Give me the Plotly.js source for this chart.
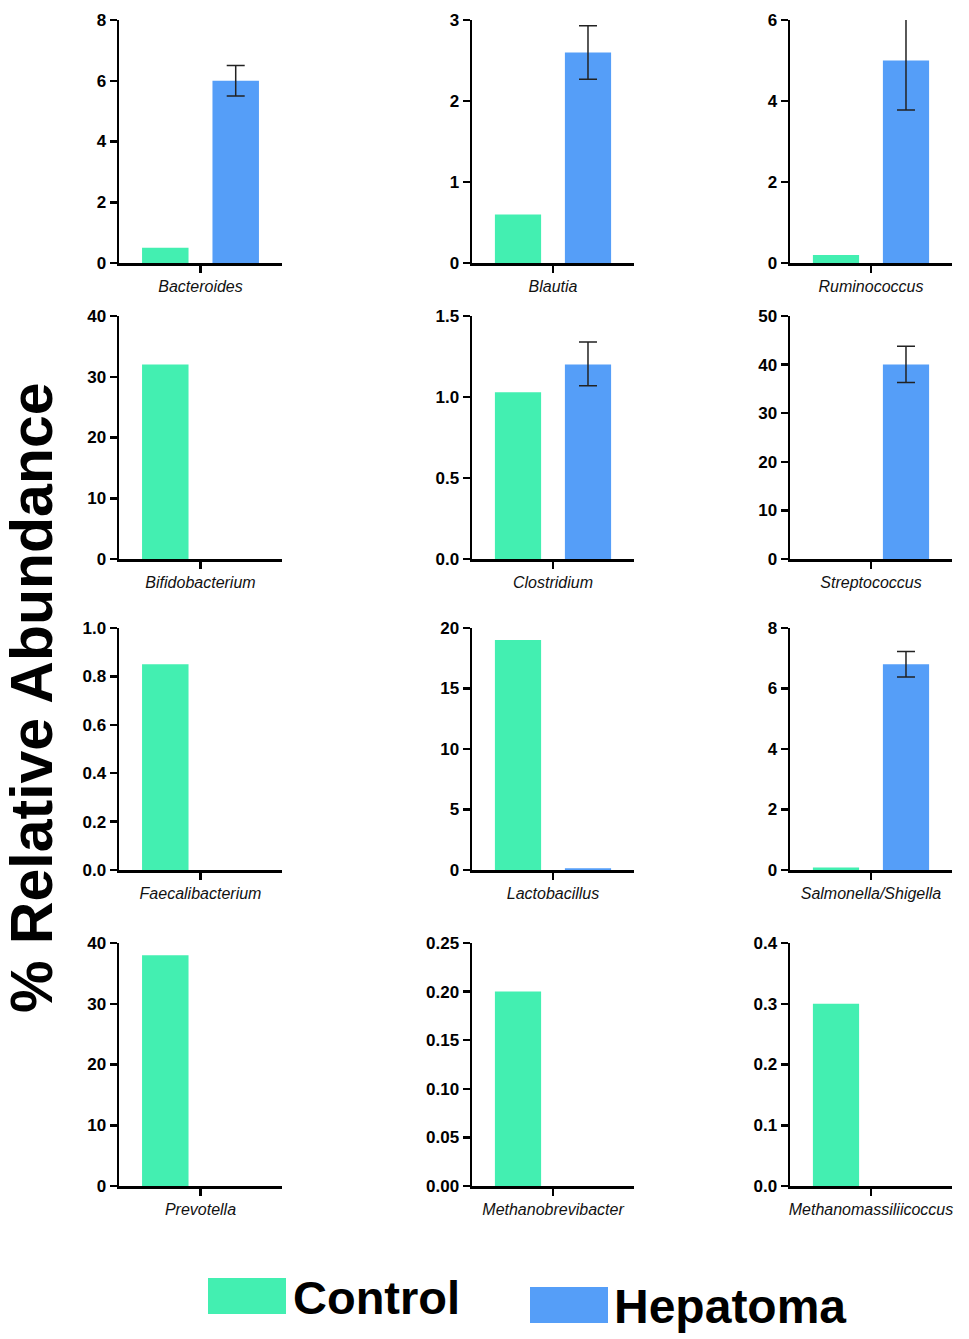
<!DOCTYPE html>
<html>
<head>
<meta charset="utf-8">
<script src="https://cdn.plot.ly/plotly-3.0.1.min.js"></script>
<style>html,body{margin:0;padding:0;background:#fff;}</style>
</head>
<body>
<div id="plot" style="width:969px;height:1339px;"></div>
<script>
// genus names, in reading order (row by row)
var genera = ["Bacteroides", "Blautia", "Ruminococcus",
              "Bifidobacterium", "Clostridium", "Streptococcus",
              "Faecalibacterium", "Lactobacillus", "Salmonella/Shigella",
              "Prevotella", "Methanobrevibacter", "Methanomassiliicoccus"];

// % relative abundance
var control  = [0.5, 0.6, 0.2, 32, 1.03, 0, 0.85, 19, 0.08, 38, 0.2, 0.3];
var hepatoma = [6.0, 2.6, 5.0, 0, 1.2, 40, 0, 0.15, 6.8, 0, 0, 0];
var hepErrPlus  = [0.5, 0.33, 1.12, 0, 0.14, 3.8, 0, 0, 0.42, 0, 0, 0];
var hepErrMinus = [0.5, 0.33, 1.22, 0, 0.13, 3.7, 0, 0, 0.42, 0, 0, 0];

// y axis scales per panel
var yMax    = [8, 3, 6, 40, 1.5, 50, 1.0, 20, 8, 40, 0.25, 0.4];
var yStep   = [2, 1, 2, 10, 0.5, 10, 0.2, 5, 2, 10, 0.05, 0.1];
var yFormat = ["d", "d", "d", "d", ".1f", "d", ".1f", "d", "d", "d", ".2f", ".1f"];

var W = 969, H = 1339;
var greenCol = "#43efb1";
var blueCol = "#559ef8";
var font = "Liberation Sans, Arial, sans-serif";

// panel positions in pixels
var colPx = [[119, 282], [472, 634], [790, 952]];
var rowPx = [[20, 263], [316, 559], [628, 870], [943, 1186]];

var traces = [];
var layout = {
  width: W, height: H,
  margin: {l: 0, r: 0, t: 0, b: 0},
  paper_bgcolor: "#fff", plot_bgcolor: "#fff",
  showlegend: false,
  barmode: "group",
  bargap: 0.136,
  bargroupgap: 0.34,
  font: {family: font, color: "#000"},
  shapes: [], annotations: []
};

genera.forEach(function (g, i) {
  var n = i + 1;
  var r = Math.floor(i / 3), c = i % 3;
  var xa = "x" + n, ya = "y" + n;

  traces.push({
    type: "bar", name: "Control", x: [g], y: [control[i]],
    xaxis: xa, yaxis: ya,
    marker: {color: greenCol, line: {width: 0}}
  });
  traces.push({
    type: "bar", name: "Hepatoma", x: [g], y: [hepatoma[i]],
    xaxis: xa, yaxis: ya, cliponaxis: false,
    marker: {color: blueCol, line: {width: 0}},
    error_y: {
      type: "data", symmetric: false,
      array: [hepErrPlus[i]], arrayminus: [hepErrMinus[i]],
      visible: hepErrPlus[i] > 0,
      color: "#222", thickness: 1.5, width: 9
    }
  });

  layout["xaxis" + (n === 1 ? "" : n)] = {
    domain: [colPx[c][0] / W, colPx[c][1] / W],
    anchor: ya, type: "category", range: [-0.5, 0.5],
    showline: true, linecolor: "#000", linewidth: 2.5,
    ticks: "outside", ticklen: 7, tickwidth: 2.5, tickcolor: "#000",
    tickfont: {family: font, size: 16, style: "italic", color: "#111"},
    showgrid: false, zeroline: false, fixedrange: true
  };
  layout["yaxis" + (n === 1 ? "" : n)] = {
    domain: [1 - rowPx[r][1] / H, 1 - rowPx[r][0] / H],
    anchor: xa, range: [0, yMax[i]],
    tick0: 0, dtick: yStep[i], tickformat: yFormat[i],
    showline: true, linecolor: "#000", linewidth: 2.5,
    ticks: "outside", ticklen: 7, tickwidth: 2.5, tickcolor: "#000",
    tickfont: {family: font, size: 17, weight: "bold", color: "#000"},
    showgrid: false, zeroline: false, fixedrange: true
  };
});

// y title
layout.annotations.push({
  xref: "paper", yref: "paper", x: 32 / W, y: 1 - 698 / H,
  xanchor: "center", yanchor: "middle", showarrow: false, textangle: -90,
  text: "% Relative Abundance",
  font: {family: font, size: 59, weight: "bold", color: "#000"}
});

// legend
layout.shapes.push({
  type: "rect", xref: "paper", yref: "paper",
  x0: 208 / W, x1: 286 / W, y0: 1 - 1314 / H, y1: 1 - 1278 / H,
  fillcolor: greenCol, line: {width: 0}
});
layout.shapes.push({
  type: "rect", xref: "paper", yref: "paper",
  x0: 530 / W, x1: 608 / W, y0: 1 - 1323 / H, y1: 1 - 1287 / H,
  fillcolor: blueCol, line: {width: 0}
});
layout.annotations.push({
  xref: "paper", yref: "paper", x: 291 / W, y: 1 - 1297 / H,
  xanchor: "left", yanchor: "middle", showarrow: false,
  text: "Control", font: {family: font, size: 47, weight: "bold", color: "#000"}
});
layout.annotations.push({
  xref: "paper", yref: "paper", x: 612 / W, y: 1 - 1306 / H,
  xanchor: "left", yanchor: "middle", showarrow: false,
  text: "Hepatoma", font: {family: font, size: 48, weight: "bold", color: "#000"}
});

Plotly.newPlot("plot", traces, layout, {staticPlot: true, displayModeBar: false});
</script>
</body>
</html>
